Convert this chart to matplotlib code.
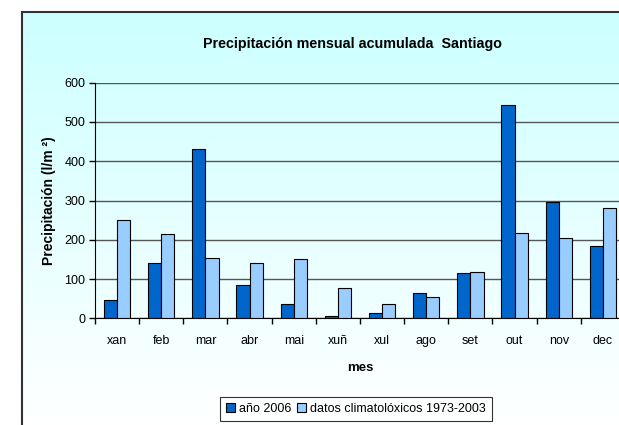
import matplotlib.pyplot as plt
import numpy as np
from matplotlib.lines import Line2D

plt.rcParams['font.family'] = ['Liberation Sans', 'DejaVu Sans']

# Datos
meses = ['xan', 'feb', 'mar', 'abr', 'mai', 'xuñ', 'xul', 'ago', 'set', 'out', 'nov', 'dec']
ano_2006 = [46, 140, 431, 85, 36, 6, 13, 65, 115, 542, 295, 185]
climatoloxicos = [250, 214, 154, 140, 150, 78, 36, 55, 118, 217, 204, 282]

fig = plt.figure(figsize=(6.19, 4.25), dpi=100)

# Fondo con degradado (cian claro arriba, blanco abajo)
fx0, fy1 = 21.7 / 619, 1 - 11.7 / 425
bg = fig.add_axes([fx0, 0, 1 - fx0, fy1], zorder=0)
grad = np.linspace(0, 1, 256).reshape(-1, 1)
top = np.array([204, 255, 255]) / 255
bot = np.array([255, 255, 255]) / 255
img = top[None, None, :] * (1 - grad[:, :, None]) + bot[None, None, :] * grad[:, :, None]
bg.imshow(img, aspect='auto', extent=[0, 1, 0, 1], origin='upper')
bg.set_axis_off()

# Marco del gráfico
fig.add_artist(Line2D([fx0, fx0], [0, fy1], color='#333333', linewidth=1.5, transform=fig.transFigure))
fig.add_artist(Line2D([fx0, 1], [fy1, fy1], color='#333333', linewidth=1.5, transform=fig.transFigure))

ax = fig.add_axes([95 / 619, 106.7 / 425, 530 / 619, 235.6 / 425], zorder=1)
ax.patch.set_alpha(0)

x = np.arange(len(meses))
w = 0.3
ax.bar(x - w / 2, ano_2006, w, color='#0066CC', edgecolor='black', linewidth=0.8,
       label='año 2006', zorder=3)
ax.bar(x + w / 2, climatoloxicos, w, color='#99CCFF', edgecolor='black', linewidth=0.8,
       label='datos climatolóxicos 1973-2003', zorder=3)

ax.set_xlim(-0.5, 11.5)
ax.set_ylim(0, 600)
ax.set_yticks(range(0, 601, 100))
ax.set_xticks(x)
ax.set_xticklabels(meses)
ax.set_xticks(np.arange(-0.5, 12, 1), minor=True)
ax.tick_params(axis='x', which='major', length=0, pad=12, labelsize=9)
ax.tick_params(axis='x', which='minor', length=4, width=1, color='black')
ax.tick_params(axis='y', length=4, width=1, labelsize=9, pad=3)

ax.yaxis.grid(True, color='#555555', linewidth=1)
ax.set_axisbelow(True)
for s in ['top', 'right']:
    ax.spines[s].set_visible(False)
ax.spines['left'].set_color('black')
ax.spines['bottom'].set_color('black')

ax.set_ylabel('Precipitación (l/m ²)', fontsize=10, fontweight='bold', labelpad=6)
ax.set_xlabel('mes', fontsize=9.5, fontweight='bold', labelpad=11)

fig.text(352 / 619, 1 - 44 / 425, 'Precipitación mensual acumulada  Santiago',
         ha='center', va='center', fontsize=10.3, fontweight='bold')

leg = fig.legend(loc='center', bbox_to_anchor=(356 / 619, 1 - 409 / 425), ncol=2,
                 fontsize=9, frameon=True, fancybox=False, edgecolor='black',
                 handlelength=0.7, handleheight=0.7, handletextpad=0.3,
                 columnspacing=0.5, borderpad=0.5, borderaxespad=0)
leg.get_frame().set_linewidth(0.8)
leg.get_frame().set_facecolor('white')

plt.savefig('out.png', dpi=100, facecolor='white')
plt.close()
